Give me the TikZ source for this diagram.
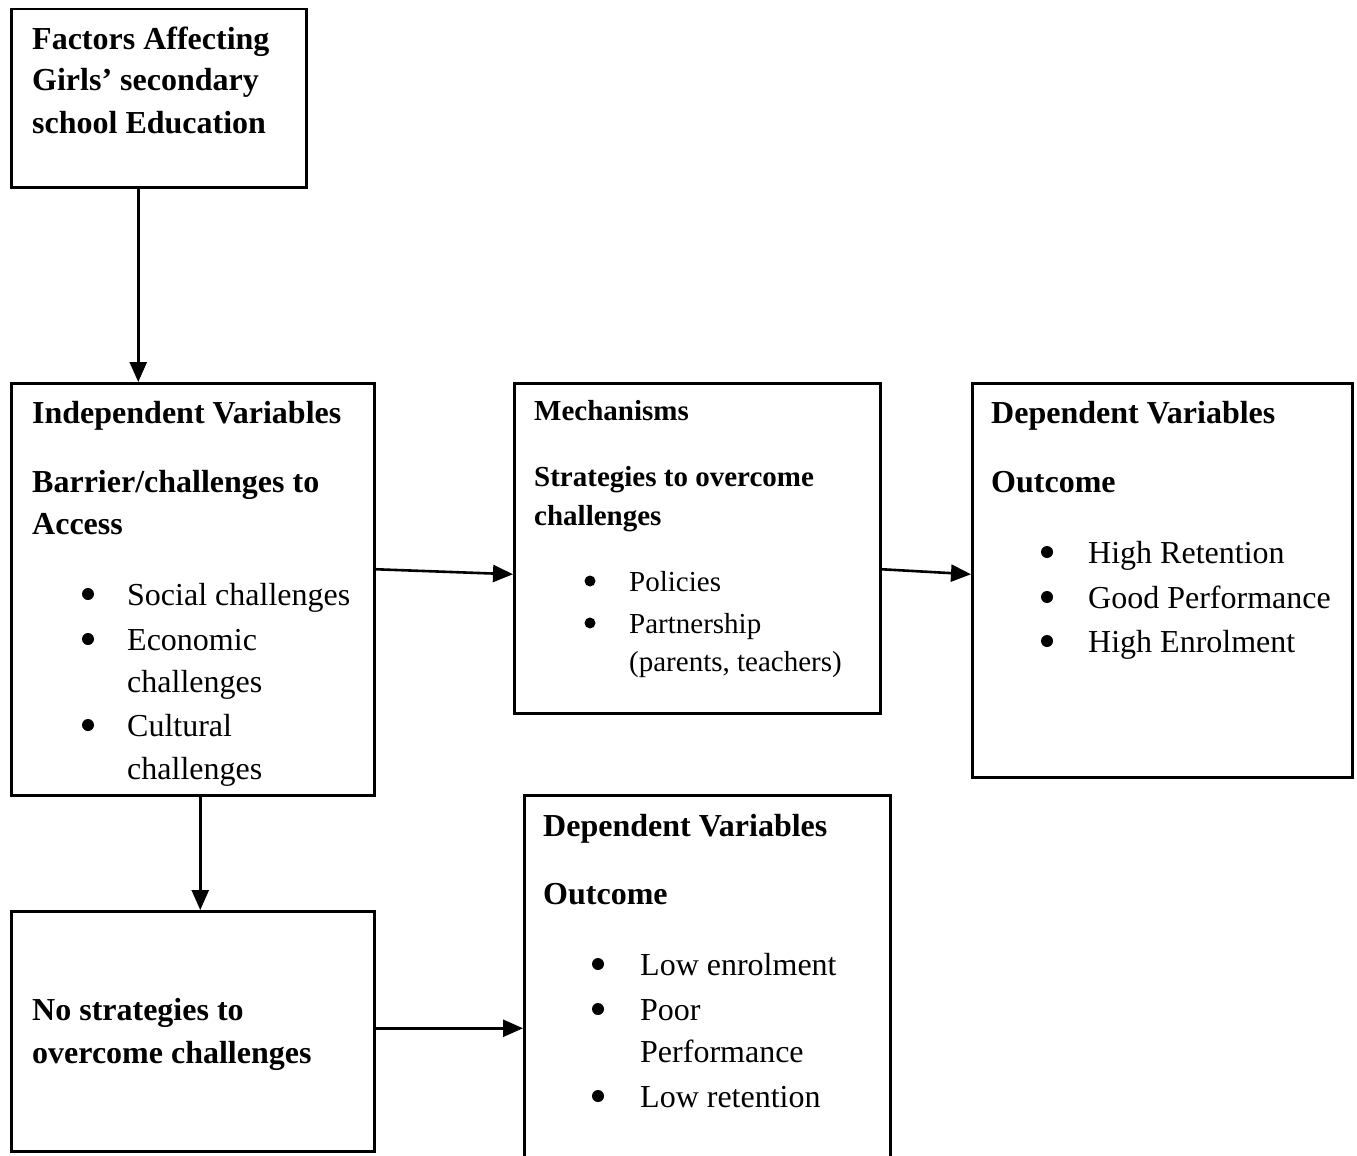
\documentclass[tikz,border=0pt]{standalone}
\usepackage{fontspec}
\setmainfont{Liberation Serif}
\usetikzlibrary{arrows.meta,positioning}
\tikzset{
  box/.style={draw,line width=2.5pt,anchor=north west,inner sep=0pt},
  big/.style={anchor=base west,inner sep=0pt,font=\fontsize{32}{38}\selectfont},
  small/.style={anchor=base west,inner sep=0pt,font=\fontsize{29}{34}\selectfont},
  bul/.style={circle,fill,inner sep=0pt,minimum size=12pt},
  arr/.style={line width=2.6pt,-{Triangle[length=20pt,width=17pt]}}
}
\newcommand{\bx}[5]{\node[box,minimum width=#4pt,minimum height=#5pt] (#1) at (#2,#3) {};}
\begin{document}
\begin{tikzpicture}[x=1pt,y=-1pt]
\useasboundingbox (0,0) rectangle (1357,1156);
% boxes
\bx{A}{10}{8}{295}{178}
\bx{B}{10}{382}{363}{412}
\bx{C}{513}{382}{366}{330}
\bx{D}{971}{382}{380}{394}
\bx{E}{10}{910}{363}{240}
\bx{F}{523}{794}{366}{368}
% box A
\node[big] (a1) at (32,49) {\textbf{Factors Affecting}};
\node[big] (a2) at (32,91) {\textbf{Girls’ secondary}};
\node[big] (a3) at (32,133) {\textbf{school Education}};
% box B
\node[big] (b1) at (32,423) {\textbf{Independent Variables}};
\node[big] (b2) at (32,492) {\textbf{Barrier/challenges to}};
\node[big] (b3) at (32,534) {\textbf{Access}};
\node[bul] (bb1) at (88,594) {};
\node[big] (b4) at (127,605) {Social challenges};
\node[bul] (bb2) at (88,639) {};
\node[big] (b5) at (127,650) {Economic};
\node[big] (b6) at (127,692) {challenges};
\node[bul] (bb3) at (88,725) {};
\node[big] (b7) at (127,736) {Cultural};
\node[big] (b8) at (127,779) {challenges};
% box C
\node[small] (c1) at (534,420) {\textbf{Mechanisms}};
\node[small] (c2) at (534,486) {\textbf{Strategies to overcome}};
\node[small] (c3) at (534,525) {\textbf{challenges}};
\node[bul,minimum size=11pt] (cb1) at (590,581) {};
\node[small] (c4) at (629,591) {Policies};
\node[bul,minimum size=11pt] (cb2) at (590,623) {};
\node[small] (c5) at (629,633) {Partnership};
\node[small] (c6) at (629,671) {(parents, teachers)};
% box D
\node[big] (d1) at (991,423) {\textbf{Dependent Variables}};
\node[big] (d2) at (991,492) {\textbf{Outcome}};
\node[bul] (db1) at (1047,552) {};
\node[big] (d3) at (1088,563) {High Retention};
\node[bul] (db2) at (1047,597) {};
\node[big] (d4) at (1088,608) {Good Performance};
\node[bul] (db3) at (1047,641) {};
\node[big] (d5) at (1088,652) {High Enrolment};
% box E
\node[big] (e1) at (32,1020) {\textbf{No strategies to}};
\node[big] (e2) at (32,1063) {\textbf{overcome challenges}};
% box F
\node[big] (f1) at (543,836) {\textbf{Dependent Variables}};
\node[big] (f2) at (543,904) {\textbf{Outcome}};
\node[bul] (fb1) at (598,964) {};
\node[big] (f3) at (640,975) {Low enrolment};
\node[bul] (fb2) at (598,1009) {};
\node[big] (f4) at (640,1020) {Poor};
\node[big] (f5) at (640,1062) {Performance};
\node[bul] (fb3) at (598,1096) {};
\node[big] (f6) at (640,1107) {Low retention};
% connectors
\draw[arr] ([xshift=-20.5pt]A.south) -- ([xshift=-20.5pt]A.south |- B.north);
\draw[arr] ([yshift=20pt]B.east) -- ([yshift=-26pt]C.west);
\draw[arr] ([yshift=-21pt]C.east) -- ([yshift=6pt]D.west);
\draw[arr] ([xshift=7.5pt]B.south) -- ([xshift=7.5pt]B.south |- E.north);
\draw[arr] ([yshift=3pt]E.east) -- ([yshift=3pt]E.east -| F.west);
\end{tikzpicture}
\end{document}
